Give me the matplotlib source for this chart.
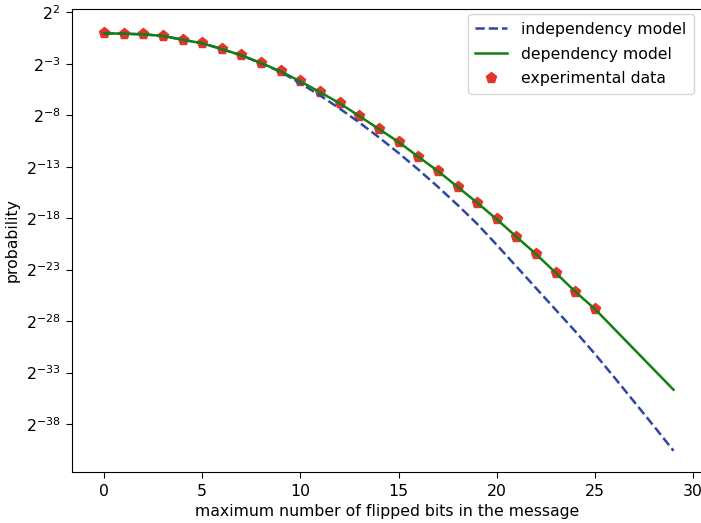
import matplotlib
matplotlib.use("Agg")
import matplotlib.pyplot as plt
import numpy as np
from matplotlib.ticker import LogFormatterSciNotation, NullLocator, FixedLocator

# log2 of probabilities
x_model = list(range(0, 30))
x_exp = list(range(0, 26))

indep_log2 = [-0.04, -0.08, -0.14, -0.30, -0.66, -1.01, -1.57, -2.19, -2.96, -3.80,
              -4.90, -6.08, -7.35, -8.71, -10.15, -11.67, -13.27, -14.95, -16.71, -18.55,
              -20.60, -22.70, -24.80, -26.90, -29.00, -31.20, -33.50, -35.85, -38.20, -40.60]

dep_log2 = [-0.04, -0.08, -0.14, -0.30, -0.66, -1.01, -1.57, -2.18, -2.93, -3.75,
            -4.71, -5.76, -6.84, -8.08, -9.34, -10.60, -12.03, -13.42, -14.95, -16.50,
            -18.11, -19.81, -21.49, -23.31, -25.15, -26.83, -28.79, -30.75, -32.71, -34.67]

exp_log2 = [-0.04, -0.08, -0.14, -0.30, -0.66, -1.01, -1.57, -2.18, -2.93, -3.75,
            -4.71, -5.76, -6.84, -8.08, -9.34, -10.60, -12.03, -13.42, -14.95, -16.50,
            -18.11, -19.81, -21.49, -23.31, -25.15, -26.83]

ytick_exps = [2, -3, -8, -13, -18, -23, -28, -33, -38]
xticks = [0, 5, 10, 15, 20, 25, 30]

FS = 11.3

fig = plt.figure(figsize=(7.01, 5.23), dpi=100)
ax = fig.add_axes([72/701, 51/523, (702-72)/701, (472-9)/523])

indep = np.power(2.0, indep_log2)
dep = np.power(2.0, dep_log2)
expv = np.power(2.0, exp_log2)

ax.plot(x_exp, expv, linestyle='none', marker='p', markersize=8,
        color='#e2352b', markeredgecolor='#e2352b', zorder=1, label='experimental data')
l1, = ax.plot(x_model, indep, linestyle='--', color='#2f47a3', linewidth=1.8,
              zorder=2, label='independency model')
l2, = ax.plot(x_model, dep, linestyle='-', color='#138013', linewidth=1.8,
              zorder=3, label='dependency model')

ax.set_yscale('log', base=2)
ax.set_ylim(2.0**-42.66, 2.0**2.32)
ax.set_xlim(-1.63, 30.45)
ax.yaxis.set_major_locator(FixedLocator([2.0**e for e in ytick_exps]))
ax.yaxis.set_major_formatter(LogFormatterSciNotation(base=2))
ax.yaxis.set_minor_locator(NullLocator())
ax.set_xticks(xticks)

ax.spines['right'].set_visible(False)
ax.tick_params(labelsize=FS, direction='out', length=4, pad=4.5)

ax.set_xlabel('maximum number of flipped bits in the message', fontsize=FS, labelpad=4)
ax.set_ylabel('probability', fontsize=FS, labelpad=4)

handles, labels = ax.get_legend_handles_labels()
order = [1, 2, 0]
ax.legend([handles[i] for i in order], [labels[i] for i in order],
          loc='upper right', numpoints=1, fontsize=FS,
          labelspacing=0.62, borderpad=0.5, handletextpad=0.9,
          bbox_to_anchor=(694/701, 1 - 14/523), bbox_transform=fig.transFigure,
          borderaxespad=0)

fig.savefig('out.png', dpi=100)
